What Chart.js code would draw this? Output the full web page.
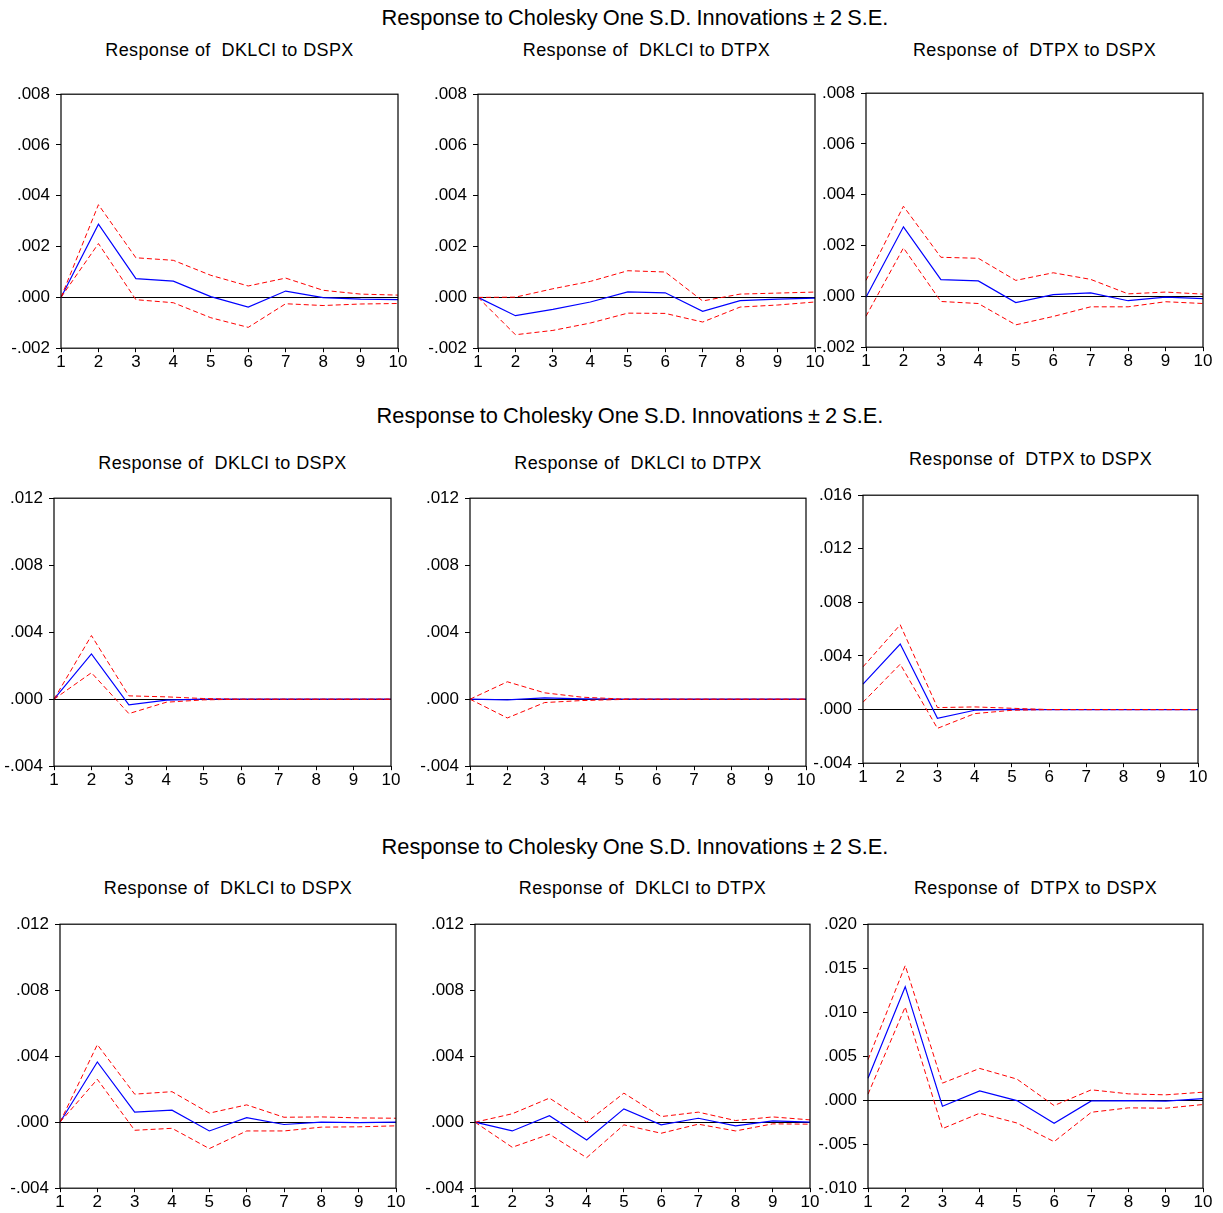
<!DOCTYPE html>
<html>
<head>
<meta charset="utf-8">
<script src="https://cdn.jsdelivr.net/npm/chart.js@4.4.0/dist/chart.umd.min.js"></script>
<style>
  body { margin: 0; width: 1223px; height: 1213px; background: #fff; overflow: hidden; position: relative;
         font-family: "Liberation Sans", Arial, sans-serif; color: #000; }
  canvas { position: absolute; }
  .titulo { position: absolute; white-space: pre; transform: translate(-50%, -50%); line-height: 1; }
  .sup { font-size: 21.8px; word-spacing: -1px; }
  .pan { font-size: 18px; letter-spacing: 0.4px; }
</style>
</head>
<body>
<script>
// periodos del eje x
const periodos = ['1', '2', '3', '4', '5', '6', '7', '8', '9', '10'];

// marcas del eje y
const ticksA = [-0.002, 0, 0.002, 0.004, 0.006, 0.008];
const ticksB = [-0.004, 0, 0.004, 0.008, 0.012];
const ticksC = [-0.004, 0, 0.004, 0.008, 0.012, 0.016];
const ticksD = [-0.010, -0.005, 0, 0.005, 0.010, 0.015, 0.020];

// fila 1
const p1Resp  = [0, 0.00288, 0.00074, 0.00064, 0.00003, -0.00038, 0.00025, -0.00001, -0.00007, -0.00009];
const p1Upper = [0, 0.00365, 0.00156, 0.00146, 0.00087, 0.00045, 0.00076, 0.00028, 0.00013, 0.00009];
const p1Lower = [0, 0.00212, -0.00009, -0.00021, -0.00080, -0.00118, -0.00025, -0.00032, -0.00026, -0.00024];

const p2Resp  = [0, -0.00072, -0.00047, -0.00018, 0.00022, 0.00018, -0.00055, -0.00013, -0.00007, -0.00003];
const p2Upper = [0, 0.00001, 0.00034, 0.00063, 0.00105, 0.00100, -0.00014, 0.00013, 0.00017, 0.00021];
const p2Lower = [0, -0.00147, -0.00130, -0.00101, -0.00062, -0.00063, -0.00097, -0.00038, -0.00030, -0.00018];

const p3Resp  = [-0.00003, 0.00274, 0.00066, 0.00061, -0.00024, 0.00007, 0.00014, -0.00017, -0.00003, -0.00009];
const p3Upper = [0.00063, 0.00355, 0.00154, 0.00150, 0.00063, 0.00093, 0.00067, 0.00010, 0.00017, 0.00009];
const p3Lower = [-0.00078, 0.00191, -0.00020, -0.00028, -0.00112, -0.00079, -0.00041, -0.00041, -0.00021, -0.00028];

// fila 2
const p4Resp  = [0, 0.00270, -0.00034, -0.00006, 0, 0, 0, 0, 0, 0];
const p4Upper = [0, 0.00380, 0.00020, 0.00014, 0.00004, 0, 0, 0, 0, 0];
const p4Lower = [0, 0.00158, -0.00086, -0.00018, -0.00004, 0, 0, 0, 0, 0];

const p5Resp  = [0, -0.00004, 0.00008, 0.00002, 0, 0, 0, 0, 0, 0];
const p5Upper = [0, 0.00104, 0.00038, 0.00012, 0.00002, 0, 0, 0, 0, 0];
const p5Lower = [0, -0.00112, -0.00020, -0.00008, -0.00002, 0, 0, 0, 0, 0];

const p6Resp  = [0.00190, 0.00489, -0.00065, -0.00005, 0.00002, 0, 0, 0, 0, 0];
const p6Upper = [0.00319, 0.00633, 0.00015, 0.00020, 0.00010, 0, 0, 0, 0, 0];
const p6Lower = [0.00055, 0.00339, -0.00140, -0.00030, -0.00005, 0, 0, 0, 0, 0];

// fila 3
const p7Resp  = [0, 0.00365, 0.00061, 0.00073, -0.00053, 0.00028, -0.00014, 0, -0.00002, 0];
const p7Upper = [0, 0.00470, 0.00170, 0.00185, 0.00055, 0.00105, 0.00030, 0.00032, 0.00026, 0.00024];
const p7Lower = [0, 0.00260, -0.00049, -0.00037, -0.00160, -0.00053, -0.00053, -0.00030, -0.00028, -0.00022];

const p8Resp  = [0, -0.00053, 0.00039, -0.00108, 0.00081, -0.00016, 0.00024, -0.00022, 0.00008, 0];
const p8Upper = [0, 0.00051, 0.00146, 0, 0.00176, 0.00034, 0.00061, 0.00010, 0.00032, 0.00014];
const p8Lower = [0, -0.00152, -0.00073, -0.00215, -0.00016, -0.00067, -0.00012, -0.00053, -0.00010, -0.00012];

const p9Resp  = [0.00250, 0.01290, -0.00068, 0.00106, -0.00004, -0.00262, -0.00008, -0.00004, -0.00010, 0.00019];
const p9Upper = [0.00460, 0.01530, 0.00194, 0.00361, 0.00240, -0.00061, 0.00118, 0.00072, 0.00061, 0.00091];
const p9Lower = [0.00068, 0.01060, -0.00323, -0.00148, -0.00259, -0.00471, -0.00137, -0.00087, -0.00091, -0.00049];

const tituloGeneral = 'Response to Cholesky One S.D. Innovations \u00b1 2 S.E.';
const titulosPanel = ['Response of  DKLCI to DSPX', 'Response of  DKLCI to DTPX', 'Response of  DTPX to DSPX'];

// posicion del area de trazado de cada panel (izq, arriba, der, abajo)
const paneles = [
    { caja: [61, 94, 398, 348],   ticks: ticksA, r: p1Resp, u: p1Upper, l: p1Lower, t: 0 },
    { caja: [478, 94, 815, 348],  ticks: ticksA, r: p2Resp, u: p2Upper, l: p2Lower, t: 1 },
    { caja: [866, 93, 1203, 347], ticks: ticksA, r: p3Resp, u: p3Upper, l: p3Lower, t: 2 },
    { caja: [54, 498, 391, 766],  ticks: ticksB, r: p4Resp, u: p4Upper, l: p4Lower, t: 0 },
    { caja: [470, 498, 806, 766], ticks: ticksB, r: p5Resp, u: p5Upper, l: p5Lower, t: 1 },
    { caja: [863, 495, 1198, 763], ticks: ticksC, r: p6Resp, u: p6Upper, l: p6Lower, t: 2 },
    { caja: [60, 924, 396, 1188], ticks: ticksB, r: p7Resp, u: p7Upper, l: p7Lower, t: 0 },
    { caja: [475, 924, 810, 1188], ticks: ticksB, r: p8Resp, u: p8Upper, l: p8Lower, t: 1 },
    { caja: [868, 924, 1203, 1188], ticks: ticksD, r: p9Resp, u: p9Upper, l: p9Lower, t: 2 }
];
const supY = [18, 416, 847];
const titY = [[50, 50, 50], [463, 463, 459], [888, 888, 888]];

const IZQ = 60, ARR = 12, DER = 16, ABA = 26;
const fuente = { family: '"Liberation Sans", Arial, sans-serif', size: 17 };

function etiquetaY(v) {
    const s = Math.abs(v).toFixed(3).replace(/^0/, '');
    return (v < -1e-9 ? '-' : '') + s;
}

function ponerTexto(texto, cx, cy, clase) {
    const d = document.createElement('div');
    d.className = 'titulo ' + clase;
    d.textContent = texto;
    d.style.left = cx + 'px';
    d.style.top = cy + 'px';
    document.body.appendChild(d);
}

const marco = {
    id: 'marco',
    afterDatasetsDraw(chart) {
        const a = chart.chartArea, ctx = chart.ctx;
        ctx.save();
        ctx.strokeStyle = '#000';
        ctx.lineWidth = 1.2;
        ctx.strokeRect(a.left, a.top, a.right - a.left, a.bottom - a.top);
        ctx.restore();
    }
};

paneles.forEach((p, i) => {
    const [l, t, r, b] = p.caja;
    const fila = Math.floor(i / 3);
    if (i % 3 === 0) {
        const cen = fila === 1 ? 630 : 635;
        ponerTexto(tituloGeneral, cen, supY[fila], 'sup');
    }
    ponerTexto(titulosPanel[p.t], (l + r) / 2, titY[fila][i % 3], 'pan');

    const canvas = document.createElement('canvas');
    canvas.width = (r - l) + IZQ + DER;
    canvas.height = (b - t) + ARR + ABA;
    canvas.style.left = (l - IZQ) + 'px';
    canvas.style.top = (t - ARR) + 'px';
    document.body.appendChild(canvas);

    const ticks = p.ticks;
    const grafico = new Chart(canvas.getContext('2d'), {
        type: 'line',
        data: {
            labels: periodos,
            datasets: [
                { data: p.u, borderColor: '#ff0000', borderWidth: 1, borderDash: [5, 3], pointRadius: 0, tension: 0, fill: false },
                { data: p.l, borderColor: '#ff0000', borderWidth: 1, borderDash: [5, 3], pointRadius: 0, tension: 0, fill: false },
                { data: p.r, borderColor: '#0000ff', borderWidth: 1.2, pointRadius: 0, tension: 0, fill: false }
            ]
        },
        options: {
            responsive: false,
            maintainAspectRatio: false,
            devicePixelRatio: 1,
            animation: false,
            layout: { padding: { left: 0, top: ARR, right: DER, bottom: 0 } },
            plugins: { legend: { display: false }, tooltip: { enabled: false }, title: { display: false } },
            scales: {
                x: {
                    offset: false,
                    afterFit: s => { s.height = ABA; },
                    grid: { drawOnChartArea: false, tickLength: 4, color: '#000', tickColor: '#000' },
                    border: { display: false },
                    ticks: { color: '#000', font: fuente, padding: 0, maxRotation: 0, autoSkip: false }
                },
                y: {
                    min: ticks[0],
                    max: ticks[ticks.length - 1],
                    afterFit: s => { s.width = IZQ; },
                    afterBuildTicks: s => { s.ticks = ticks.map(v => ({ value: v })); },
                    grid: {
                        drawOnChartArea: true,
                        tickLength: 5,
                        tickColor: '#000',
                        color: c => (c.tick && Math.abs(c.tick.value) < 1e-9) ? '#000' : 'rgba(0,0,0,0)',
                        lineWidth: 1
                    },
                    border: { display: false },
                    ticks: { color: '#000', font: fuente, padding: 6, callback: v => etiquetaY(v) }
                }
            }
        },
        plugins: [marco]
    });

    // ajustar el lienzo para que el area de trazado caiga justo en la caja
    const a = grafico.chartArea;
    const w = canvas.width + ((r - l) - (a.right - a.left));
    const h = canvas.height + ((b - t) - (a.bottom - a.top));
    grafico.resize(w, h);
    const a2 = grafico.chartArea;
    canvas.style.left = (l - a2.left) + 'px';
    canvas.style.top = (t - a2.top) + 'px';
});
</script>
</body>
</html>
